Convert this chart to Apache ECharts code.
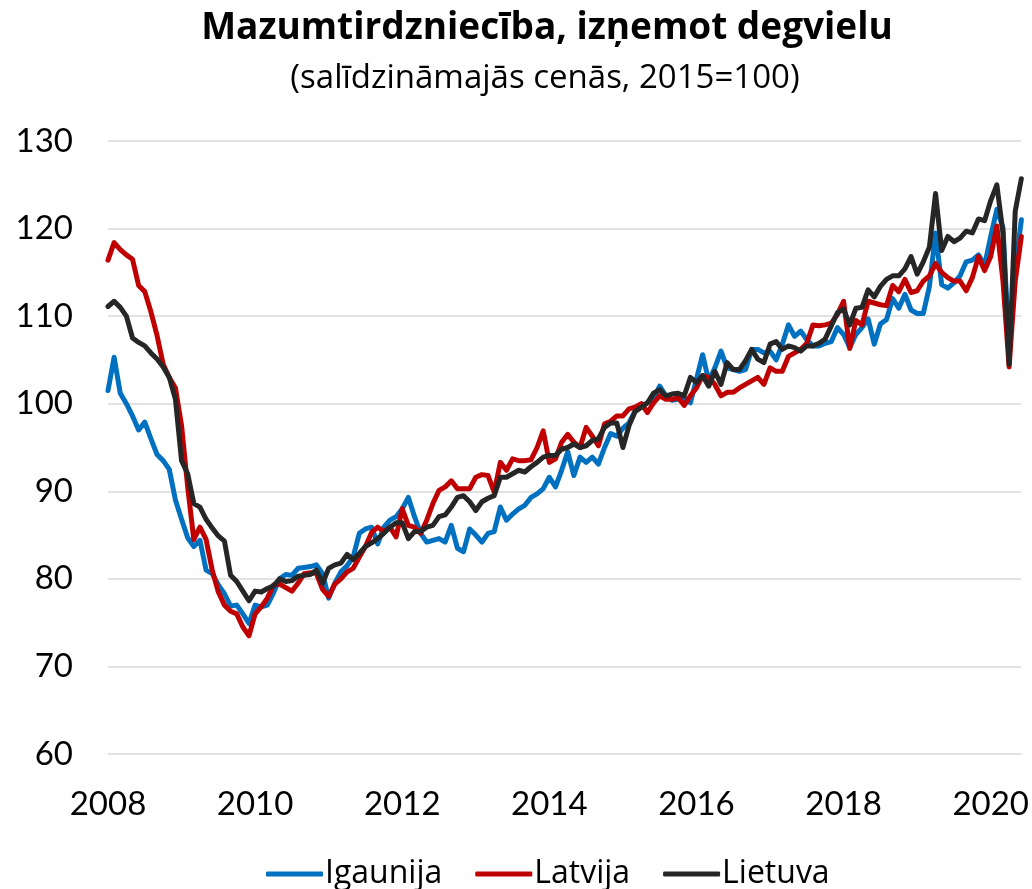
<!DOCTYPE html>
<html>
<head>
<meta charset="utf-8">
<script src="https://cdn.jsdelivr.net/npm/echarts@6/dist/echarts.min.js"></script>
<style>
html,body{margin:0;padding:0;background:#fff;}
#chart{width:1032px;height:889px;}
</style>
</head>
<body>
<div id="chart"></div>
<script>
// Monthly index, Jan 2008 – Jun 2020 (2015=100)
const startYear = 2008;
const monthCount = 150;
const tickYears = ['2008','2010','2012','2014','2016','2018','2020'];
const seriesNames = ['Igaunija','Latvija','Lietuva'];

const igaunija = [
101.5,105.3,101.2,100.0,98.6,97.0,97.9,96.0,94.2,93.5,
92.5,89.0,86.8,84.7,83.7,84.4,81.0,80.6,79.3,78.3,
76.9,77.0,76.0,74.9,77.0,76.8,77.0,78.4,80.0,80.5,
80.4,81.2,81.3,81.4,81.6,80.6,77.8,79.5,80.8,81.5,
82.5,85.2,85.7,85.9,84.0,85.9,86.7,87.1,88.0,89.3,
87.1,85.2,84.2,84.4,84.6,84.2,86.1,83.5,83.1,85.7,
85.0,84.2,85.2,85.4,88.2,86.7,87.4,88.0,88.4,89.3,
89.7,90.3,91.6,90.5,92.4,94.5,91.8,93.9,93.3,93.9,
93.1,95.0,96.6,96.3,97.2,97.8,99.2,99.7,100.1,100.7,
102.0,100.9,100.4,100.5,100.6,100.1,102.8,105.6,102.6,104.1,
106.0,104.1,103.9,103.7,103.9,106.2,106.2,105.8,106.0,105.0,
106.8,109.0,107.7,108.3,107.3,106.6,106.6,106.9,107.1,108.7,
107.9,106.4,107.9,108.7,109.7,106.8,109.1,109.6,112.0,110.9,
112.5,110.7,110.3,110.3,113.4,119.5,113.6,113.2,113.8,114.6,
116.2,116.4,117.0,115.8,119.1,122.2,120.1,106.2,115.5,121.0
];

const latvija = [
116.4,118.4,117.6,117.0,116.5,113.5,112.8,110.5,107.8,104.5,
103.0,101.8,97.5,90.5,84.5,85.9,84.5,81.0,78.5,77.0,
76.3,76.0,74.5,73.5,76.0,76.8,77.8,79.3,79.4,79.0,
78.6,79.5,80.6,80.7,80.6,78.8,78.0,79.4,80.0,80.8,
81.2,82.5,83.7,85.3,85.9,85.4,85.9,84.8,88.0,86.1,
85.9,85.2,86.7,88.6,90.1,90.5,91.2,90.3,90.3,90.3,
91.6,91.9,91.8,89.9,93.3,92.4,93.7,93.5,93.5,93.6,
95.0,96.9,93.3,93.7,95.6,96.5,95.6,95.0,97.3,96.3,
95.2,97.7,98.0,98.6,98.6,99.4,99.6,100.0,99.0,100.1,
100.9,100.5,100.5,100.7,99.8,100.9,101.8,103.2,103.0,102.2,
100.9,101.3,101.3,101.8,102.2,102.6,103.0,102.2,104.1,103.7,
103.7,105.4,105.8,106.2,106.9,109.0,108.9,109.0,109.2,110.2,
111.7,106.3,109.5,109.0,111.7,111.5,111.3,111.2,113.5,112.8,
114.2,112.7,112.9,114.0,114.6,116.0,115.0,114.4,114.0,114.0,
112.9,114.4,116.8,115.2,116.8,120.3,114.0,104.2,114.0,119.1
];

const lietuva = [
111.1,111.7,111.0,110.0,107.5,107.0,106.6,105.8,105.1,104.2,
103.0,100.5,93.5,92.0,88.6,88.2,86.8,85.8,84.9,84.3,
80.4,79.7,78.6,77.5,78.6,78.5,78.9,79.2,80.0,79.7,
79.8,80.3,80.4,80.5,81.0,79.5,81.2,81.6,81.8,82.8,
82.2,82.9,83.7,84.1,84.6,85.2,85.9,86.4,86.4,84.6,
85.4,85.4,85.9,86.1,87.1,87.3,88.2,89.3,89.5,88.8,
87.8,88.8,89.2,89.5,91.6,91.6,92.0,92.4,92.2,92.8,
93.3,93.9,94.1,94.1,94.8,95.0,95.4,95.0,95.2,95.8,
96.0,97.3,97.8,97.8,95.0,97.5,99.1,99.6,100.1,101.2,
101.6,100.9,101.1,101.2,100.9,103.0,102.4,103.2,102.0,103.7,
102.2,104.7,103.9,103.9,104.9,106.2,105.1,104.7,106.8,107.1,
106.2,106.6,106.4,106.0,106.6,106.6,106.9,107.4,108.9,110.4,
110.8,109.0,110.9,111.0,113.0,112.2,113.4,114.2,114.6,114.6,
115.4,116.8,114.8,116.2,117.9,124.0,117.5,119.1,118.5,118.9,
119.7,119.5,121.1,120.9,123.2,125.0,119.5,104.5,122.0,125.7
];

const categories = [];
for (let i = 0; i < monthCount; i++) {
  const y = startYear + Math.floor(i / 12);
  const m = (i % 12) + 1;
  categories.push(y + '-' + (m < 10 ? '0' + m : m));
}

const colors = ['#0070C0', '#C00000', '#262626'];
const textFont = '"Open Sans", sans-serif';
const numFont = 'Lato, sans-serif';

const chart = echarts.init(document.getElementById('chart'), null, {renderer: 'canvas'});
chart.setOption({
  animation: false,
  backgroundColor: '#ffffff',
  title: [
    {
      text: 'Mazumtirdzniecība, izņemot degvielu',
      left: 542, top: 5, textAlign: 'center',
      textStyle: {fontFamily: textFont, fontWeight: 'bold', fontSize: 37, color: '#000'}
    },
    {
      text: '(salīdzināmajās cenās, 2015=100)',
      left: 540, top: 57, textAlign: 'center',
      textStyle: {fontFamily: textFont, fontWeight: 'normal', fontSize: 33, color: '#000'}
    }
  ],
  legend: {
    data: seriesNames,
    top: 853,
    left: 261,
    itemWidth: 57,
    itemHeight: 5,
    itemGap: 33,
    icon: 'roundRect',
    textStyle: {fontFamily: textFont, fontSize: 32, color: '#000', padding: [0,0,0,-3]}
  },
  grid: {left: 108, right: 10, top: 141, bottom: 135, containLabel: false},
  xAxis: {
    type: 'category',
    data: categories,
    boundaryGap: false,
    axisLine: {show: false},
    axisTick: {show: false},
    axisLabel: {
      interval: function (idx) { return idx % 24 === 0; },
      formatter: function (val) {
        const yr = val.slice(0, 4);
        return tickYears.indexOf(yr) >= 0 ? yr : '';
      },
      margin: 34,
      fontFamily: numFont, fontSize: 33, color: '#000'
    },
    splitLine: {show: false}
  },
  yAxis: {
    type: 'value',
    min: 60, max: 130, interval: 10,
    axisLine: {show: false},
    axisTick: {show: false},
    axisLabel: {margin: 35, fontFamily: numFont, fontSize: 33, color: '#000'},
    splitLine: {lineStyle: {color: '#D9D9D9', width: 1.5}}
  },
  series: [
    {name: seriesNames[0], type: 'line', data: igaunija, showSymbol: false, symbol: 'none',
     lineStyle: {color: colors[0], width: 5, join: 'round', cap: 'round'}, itemStyle: {color: colors[0]}},
    {name: seriesNames[1], type: 'line', data: latvija, showSymbol: false, symbol: 'none',
     lineStyle: {color: colors[1], width: 5, join: 'round', cap: 'round'}, itemStyle: {color: colors[1]}},
    {name: seriesNames[2], type: 'line', data: lietuva, showSymbol: false, symbol: 'none',
     lineStyle: {color: colors[2], width: 5, join: 'round', cap: 'round'}, itemStyle: {color: colors[2]}}
  ]
});
</script>
</body>
</html>
